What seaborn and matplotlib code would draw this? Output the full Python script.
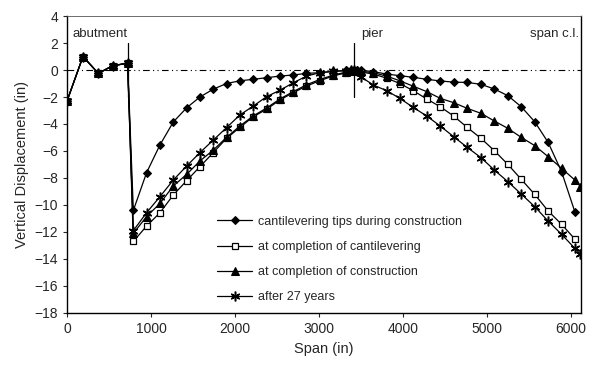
import numpy as np
import pandas as pd
import matplotlib
matplotlib.use('Agg')
import matplotlib.pyplot as plt
import seaborn as sns

sns.set_style('white')
plt.rcParams['font.family'] = ['Liberation Sans', 'DejaVu Sans']

# abutment region (shared by all series)
x_abut = [0, 190, 373, 544, 722]
y_abut = [-2.3, 1.0, -0.25, 0.32, 0.5]

# main span nodes
x_span = [790, 948, 1107, 1266, 1425, 1583, 1742, 1900, 2059, 2218,
          2376, 2535, 2694, 2852, 3011, 3170, 3328, 3380, 3417, 3455,
          3500, 3647, 3806, 3964, 4123, 4285, 4445, 4605, 4766, 4930,
          5090, 5250, 5410, 5570, 5730, 5890, 6048]
x_end = 6115

y_tips = [-10.4, -7.6, -5.55, -3.85, -2.8, -2.0, -1.42, -1.0, -0.8, -0.69,
          -0.57, -0.45, -0.37, -0.25, -0.2, -0.1, -0.03, 0, 0, 0,
          -0.02, -0.12, -0.3, -0.42, -0.54, -0.69, -0.81, -0.9, -0.92, -1.06,
          -1.41, -1.9, -2.72, -3.83, -5.36, -7.53, -10.5]
y_cant = [-12.7, -11.56, -10.57, -9.26, -8.2, -7.16, -6.12, -5.06, -4.25, -3.46,
          -2.91, -2.22, -1.68, -1.19, -0.79, -0.44, -0.2, -0.1, -0.08, -0.1,
          -0.15, -0.3, -0.6, -1.0, -1.53, -2.15, -2.72, -3.41, -4.25, -5.06,
          -5.98, -6.99, -8.1, -9.21, -10.44, -11.43, -12.52]
y_const = [-12.1, -10.86, -9.88, -8.59, -7.73, -6.74, -5.93, -4.99, -4.15, -3.4,
           -2.82, -2.15, -1.6, -1.1, -0.7, -0.38, -0.15, -0.08, -0.05, -0.08,
           -0.1, -0.2, -0.45, -0.8, -1.2, -1.6, -2.1, -2.42, -2.84, -3.21,
           -3.78, -4.32, -4.99, -5.6, -6.42, -7.28, -8.15, -8.64]
y_27 = [-11.9, -10.57, -9.38, -8.15, -7.11, -6.12, -5.19, -4.27, -3.33, -2.67,
        -1.98, -1.5, -0.95, -0.45, -0.2, -0.1, -0.05, -0.03, -0.03, -0.1,
        -0.5, -1.11, -1.53, -2.1, -2.77, -3.41, -4.15, -4.94, -5.73, -6.49,
        -7.41, -8.27, -9.19, -10.12, -11.19, -12.17, -13.21, -13.63]

series = [
    ('cantilevering tips during construction', x_abut + x_span, y_abut + y_tips,
     dict(marker='D', markersize=4, markerfacecolor='black', markeredgecolor='black')),
    ('at completion of cantilevering', x_abut + x_span, y_abut + y_cant,
     dict(marker='s', markersize=5, markerfacecolor='white', markeredgecolor='black', markeredgewidth=0.9)),
    ('at completion of construction', x_abut + x_span + [x_end], y_abut + y_const,
     dict(marker='^', markersize=6, markerfacecolor='black', markeredgecolor='black')),
    ('after 27 years', x_abut + x_span + [x_end], y_abut + y_27,
     dict(marker=(6, 2, 0), markersize=7, markeredgecolor='black', markeredgewidth=1.1)),
]

fig = plt.figure(figsize=(6.01, 3.68), dpi=100)
ax = fig.add_axes([0.1115, 0.1495, 0.855, 0.807])

for name, xs, ys, style in series:
    df = pd.DataFrame({'span': xs, 'disp': ys})
    sns.lineplot(data=df, x='span', y='disp', ax=ax, sort=False, color='black',
                 linewidth=0.9, label=name, **style)

# reference line and supports
ax.axhline(0, color='black', linestyle=(0, (6, 3, 1, 3, 1, 3)), linewidth=0.8, zorder=0)
ax.plot([725, 725], [-2, 2], color='black', linewidth=0.9)
ax.plot([3417, 3417], [-2, 2], color='black', linewidth=0.9)
ax.text(60, 2.7, 'abutment', fontsize=9.5, va='center', ha='left')
ax.text(3500, 2.7, 'pier', fontsize=9.5, va='center', ha='left')
ax.text(6100, 2.7, 'span c.l.', fontsize=9.5, va='center', ha='right')

ax.set_xlim(0, 6120)
ax.set_ylim(-18, 4)
ax.set_xticks(range(0, 6001, 1000))
ax.set_yticks(range(-18, 5, 2))
ax.tick_params(labelsize=10, length=3, direction='out', left=True, bottom=True)
ax.set_xlabel('Span (in)', fontsize=10.5)
ax.set_ylabel('Vertical Displacement (in)', fontsize=10.5)
for side in ['left', 'bottom', 'right']:
    ax.spines[side].set_color('black')
    ax.spines[side].set_linewidth(1.0)
ax.spines['top'].set_color('#555555')
ax.spines['top'].set_linewidth(0.6)

ax.legend(loc='lower left', bbox_to_anchor=(0.27, -0.005), frameon=False, fontsize=9,
          handlelength=2.8, labelspacing=1.05, handletextpad=0.5)

fig.savefig('out.png', dpi=100)
